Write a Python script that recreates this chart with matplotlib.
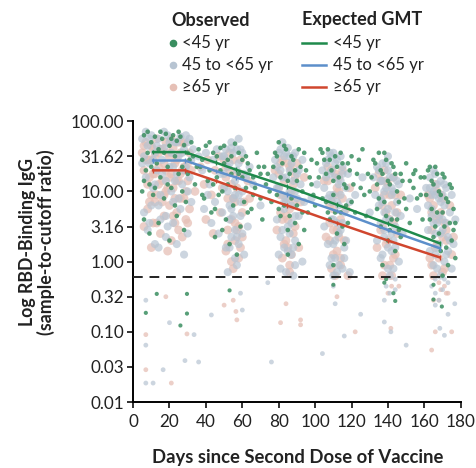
import numpy as np
import matplotlib
matplotlib.use('Agg')
import matplotlib.pyplot as plt
from matplotlib.lines import Line2D

plt.rcParams['font.family'] = ['Lato', 'DejaVu Sans']

obs_lt45 = [
    (6,1.80),(8,1.85),(10,1.70),(12,1.78),(14,1.60),(16,1.75),(18,1.82),(20,1.65),(22,1.80),(24,1.72),
    (26,1.78),(28,1.66),(30,1.55),(7,1.30),(9,1.10),(11,0.95),(13,1.40),(15,1.20),(17,0.90),(19,1.35),
    (21,1.05),(23,0.80),(25,1.25),(27,1.00),(29,0.85),(31,1.45),(6,0.60),(9,0.40),(14,0.55),(20,0.30),
    (24,0.65),(28,0.45),(7,-0.73),(13,-0.46),(26,-0.91),(29.6,-0.46),(29.6,-0.74),(5,1.0),(33,1.5),(35,1.35),
    (5,1.45),(6,1.15),(8,1.55),(10,1.35),(12,1.05),(15,1.85),(17,1.55),(19,1.10),(21,1.75),(23,1.50),
    (25,1.85),(27,1.35),(30,1.25),(32,1.70),(34,1.1),(37,1.35),(38,0.95),
    (36,1.60),(38,1.45),(40,1.65),(42,1.30),(44,1.55),(46,1.20),(48,1.62),(50,1.40),(52,1.10),(54,1.50),
    (56,1.68),(58,1.25),(60,1.45),(62,1.05),(39,0.90),(43,0.70),(47,0.95),(51,0.60),(55,0.80),(59,0.50),
    (61,0.85),(45,0.35),(53,0.25),(57,0.10),(49,1.0),(41,1.15),(53,-0.41),(64,1.3),(66,1.2),(68,1.55),(70,0.9),
    (42,1.70),(44,1.10),(46,1.50),(48,1.30),(50,1.65),(52,1.45),(54,1.25),(56,1.05),(58,1.55),(60,1.20),
    (62,1.50),(45,0.75),(49,0.45),(63,0.70),(66,0.95),(70,1.25),(73,1.1),
    (63,1.4),(65,0.75),(67,1.05),(69,1.35),(71,0.6),(74,1.25),(76,0.85),
    (72,1.35),(75,1.0),(78,1.55),(80,1.70),(82,1.40),(84,1.60),(86,1.25),(88,1.45),(90,1.15),(92,1.35),
    (94,1.55),(79,0.95),(81,0.65),(83,0.80),(85,0.45),(87,0.90),(89,0.55),(91,0.25),(93,0.70),(85,0.1),
    (97,1.2),(99,0.95),(101,1.4),(103,1.6),
    (77,1.35),(79,1.50),(81,1.20),(83,1.65),(85,1.15),(87,1.50),(89,1.30),(91,1.60),(93,1.00),(95,1.30),
    (80,0.75),(86,0.65),(90,0.80),(94,0.45),(98,1.45),
    (96,0.7),(98,1.1),(100,0.8),(102,1.2),(104,0.9),
    (105,1.45),(107,1.60),(109,1.30),(111,1.50),(113,1.20),(115,1.40),(117,1.05),(119,1.30),(106,0.85),
    (108,0.60),(110,0.95),(112,0.40),(114,0.70),(116,0.25),(118,0.55),(110,-0.05),(121,1.1),(124,1.45),
    (127,0.95),(129,1.25),(110,-0.33),
    (104,1.55),(106,1.25),(108,1.45),(110,1.15),(112,1.35),(114,1.55),(116,1.10),(118,1.40),(120,0.85),
    (107,0.70),(111,0.70),(115,0.50),(117,0.80),(123,1.25),(126,1.6),
    (120,1.5),(122,0.7),(125,1.05),(128,0.65),(130,1.0),
    (131,1.2),(133,1.40),(135,1.55),(137,1.25),(139,1.45),(141,1.10),(143,1.35),(145,1.0),(147,1.25),
    (149,0.9),(134,0.75),(136,0.50),(138,0.85),(140,0.30),(142,0.60),(144,0.15),(146,0.45),(137,-0.05),
    (139,-0.25),(143,-0.45),(152,1.15),(155,1.3),(158,0.95),(138,-0.3),(144,-0.56),
    (132,1.45),(134,1.10),(136,1.30),(138,1.55),(140,1.15),(142,1.40),(144,1.25),(146,0.85),(148,1.15),
    (135,0.90),(139,0.65),(141,0.45),(145,0.60),(147,0.35),(150,1.4),(154,1.05),
    (150,0.75),(152,0.55),(154,1.25),(156,0.9),(158,1.2),(159,0.6),
    (162,1.30),(164,1.15),(166,1.35),(168,1.00),(170,1.25),(172,0.90),(174,1.10),(176,0.75),(163,0.60),
    (165,0.35),(167,0.70),(169,0.15),(171,0.50),(173,-0.05),(175,0.30),(177,0.05),(165,-0.33),(165,-0.54),
    (170,-0.2),(160,1.2),(169.6,-0.64),
    (161,0.95),(163,1.35),(165,1.10),(167,1.25),(169,0.95),(171,1.20),(173,0.85),(175,1.05),(177,0.55),
    (164,0.75),(166,0.50),(168,0.40),(170,0.70),(172,0.20),(174,0.55),(176,0.45),
]

obs_45_65 = [
    (5,1.75),(6,1.50),(7,1.20),(8,1.65),(9,1.40),(10,1.80),(11,1.05),(12,1.55),(13,1.30),(14,1.75),
    (15,0.95),(16,1.45),(17,1.62),(18,1.15),(19,1.80),(20,1.35),(21,1.55),(22,0.85),(23,1.70),(24,1.25),
    (25,1.50),(26,1.78),(27,1.10),(28,1.60),(29,1.35),(30,1.70),(31,1.20),(32,1.45),(6,0.70),(8,0.45),
    (10,0.80),(12,0.25),(15,0.60),(18,0.35),(22,0.55),(26,0.75),(30,0.40),(7,-0.55),(7,-1.19),(7,-1.73),
    (11,-1.73),(16.5,-1.54),(20,-0.87),(28.5,-1.41),(36,-1.43),(33.5,-1.04),
    (5,1.40),(7,1.85),(9,1.75),(11,1.45),(12,1.10),(13,1.65),(14,0.80),(16,1.25),(17,1.85),(18,0.65),
    (20,1.70),(21,1.00),(22,1.35),(23,1.15),(24,1.70),(25,0.90),(27,1.55),(28,1.30),(29,1.80),(30,1.00),
    (31,1.75),(32,0.85),(9,0.55),(14,0.20),(19,0.50),(24,0.25),(28,0.10),(33,1.6),
    (36,1.50),(38,1.30),(40,1.55),(42,1.10),(44,1.45),(46,1.60),(48,1.25),(50,1.50),(52,1.35),(54,1.62),
    (56,1.15),(58,1.40),(60,1.55),(62,1.20),(64,1.35),(39,0.75),(41,0.95),(43,0.55),(45,0.85),(47,0.40),
    (49,0.70),(51,0.20),(53,0.60),(55,0.90),(57,0.35),(59,0.65),(61,0.10),(63,0.50),(50,1.05),(56,0.05),
    (43,-0.76),(59,-0.45),(60,-0.69),(66,1.1),(70,0.8),
    (49,1.50),(50,1.25),(51,1.60),(52,1.00),(53,1.40),(54,0.75),(55,1.55),(56,0.45),(57,1.30),(58,0.95),
    (59,1.60),(60,0.40),(61,1.25),(53,0.20),(55,0.65),(57,-0.05),(59,0.85),(54,1.70),(58,1.75),
    (52,-0.15),(54,0.35),(56,0.95),(58,0.25),(60,1.0),(53,0.8),(57,1.6),
    (77,1.20),(78,1.45),(79,1.05),(80,1.55),(81,1.30),(82,0.95),(83,1.50),(84,1.20),(85,1.62),(86,1.00),
    (87,1.40),(88,1.15),(89,1.55),(90,0.90),(91,1.30),(92,1.10),(93,1.45),(94,0.85),(79,0.60),(81,0.35),
    (83,0.75),(85,0.15),(87,0.55),(89,0.30),(91,0.65),(93,0.00),(84,-0.15),(88,-0.2),(74,-0.3),(76,-1.43),
    (98,0.9),(101,1.1),(110,-0.35),(111,-0.6),(116,-1.06),(125,-0.75),(104,-1.31),
    (79,1.35),(80,1.05),(81,1.60),(82,1.20),(83,0.85),(84,1.55),(85,0.50),(86,1.30),(87,0.80),(88,1.50),
    (89,0.65),(90,1.25),(83,0.20),(85,0.95),(87,0.10),(89,-0.05),(86,0.40),(82,1.70),
    (80,0.1),(82,0.45),(84,0.85),(86,1.5),(88,0.2),(81,-0.1),(89,1.0),
    (104,1.30),(105,1.05),(106,1.40),(107,0.90),(108,1.25),(109,1.50),(110,0.95),(111,1.20),(112,1.45),
    (113,0.80),(114,1.15),(115,1.35),(116,0.70),(117,1.05),(118,1.25),(119,0.85),(105,0.50),(107,0.25),
    (109,0.60),(111,0.05),(113,0.40),(115,-0.10),(117,0.30),(119,-0.15),(110,-0.2),(108,-0.05),(122,0.95),
    (126,1.2),(130,0.7),
    (106,1.20),(107,1.45),(108,0.95),(109,1.30),(110,0.60),(111,1.40),(112,0.85),(113,1.10),(114,0.45),
    (115,1.25),(116,0.20),(109,0.05),(111,0.30),(113,-0.05),(115,0.55),(110,1.55),(114,1.5),
    (108,1.55),(110,0.25),(112,0.55),(114,0.95),(116,0.05),(112,-0.15),(109,0.85),
    (132,1.20),(133,0.95),(134,1.35),(135,0.80),(136,1.15),(137,1.40),(138,0.70),(139,1.05),(140,1.30),
    (141,0.60),(142,0.95),(143,1.20),(144,0.50),(145,0.85),(146,1.10),(147,0.65),(134,0.30),(136,0.05),
    (138,0.35),(140,-0.10),(142,0.15),(144,-0.25),(146,0.00),(139,-0.35),(141,-0.45),(138,-0.86),
    (141.6,-1.0),(150,-1.19),(148,0.4),(152,0.9),(156,0.75),
    (135,1.30),(136,0.90),(137,1.15),(138,0.45),(139,1.40),(140,0.75),(141,1.20),(142,0.40),(143,1.00),
    (144,0.20),(145,1.15),(137,0.10),(139,0.60),(141,-0.20),(143,0.30),(140,1.50),(144,-0.40),(138,-0.55),
    (136,0.55),(138,1.0),(140,0.2),(142,1.05),(144,0.7),(137,0.85),(143,-0.1),
    (161,1.05),(162,0.80),(163,1.20),(164,0.65),(165,1.00),(166,1.25),(167,0.55),(168,0.90),(169,1.15),
    (170,0.45),(171,0.80),(172,1.05),(173,0.35),(174,0.70),(175,0.95),(176,0.25),(177,0.60),(163,0.15),
    (165,-0.05),(167,0.20),(169,-0.20),(171,0.00),(173,-0.30),(175,-0.10),(166,-0.45),(168.5,-0.95),
    (171,-1.05),(173,-0.75),(176.7,-0.6),(166,-0.62),(164,-0.35),
    (163,1.05),(164,0.75),(165,1.30),(166,0.40),(167,1.10),(168,0.25),(169,0.85),(170,0.60),(171,1.10),
    (172,0.10),(165,0.55),(167,-0.10),(169,0.40),(171,-0.25),(173,0.15),(166,0.95),(168,-0.55),(170,-0.40),
    (162,0.45),(164,0.95),(166,0.10),(168,0.65),(170,0.95),(172,0.55),(174,0.3),(166,-0.25),
]

obs_ge65 = [
    (5,1.55),(6,1.30),(7,1.70),(8,1.10),(9,1.45),(10,1.65),(11,1.25),(12,1.50),(13,0.95),(14,1.35),
    (15,1.60),(16,1.15),(17,1.40),(18,1.70),(19,1.05),(20,1.50),(21,1.25),(22,1.62),(23,0.90),(24,1.45),
    (25,1.15),(26,1.55),(27,1.30),(28,1.68),(29,1.00),(30,1.40),(31,1.55),(6,0.50),(8,0.75),(10,0.20),
    (13,0.55),(17,0.65),(21,0.30),(25,0.45),(29,0.60),(7,-1.54),(7,-1.04),(21,-1.73),(29.6,-1.03),(18,-0.5),
    (6,1.65),(8,1.45),(9,1.20),(11,1.60),(12,0.85),(13,1.75),(14,1.10),(16,1.60),(17,0.95),(18,1.30),
    (19,1.55),(20,0.80),(21,1.75),(22,1.05),(23,1.40),(24,0.70),(26,1.25),(27,1.70),(28,0.90),(30,1.15),
    (31,0.75),(10,0.95),(15,0.40),(19,0.15),(23,0.55),(27,0.35),(12,1.25),(25,1.70),
    (7,1.45),(9,0.85),(11,0.55),(14,1.55),(16,0.85),(18,1.0),(20,1.2),(22,0.65),(24,1.15),(26,0.9),
    (28,1.35),(30,0.55),(32,1.3),(34,1.0),
    (37,1.35),(39,1.10),(41,1.45),(43,0.95),(45,1.30),(47,1.50),(49,1.05),(51,1.35),(53,1.55),(55,0.90),
    (57,1.25),(59,1.45),(61,0.85),(63,1.15),(40,0.60),(44,0.40),(48,0.70),(52,0.25),(56,0.55),(60,0.35),
    (54,0.0),(50,-0.62),(55,-0.55),(56.5,-0.71),(57,-0.83),(64,0.9),
    (50,1.45),(51,1.20),(52,0.90),(53,1.30),(54,0.60),(55,1.45),(56,0.30),(57,1.05),(58,0.05),(59,1.25),
    (60,0.70),(52,0.45),(54,1.10),(56,0.85),(58,0.50),(51,0.15),(55,-0.10),(57,0.45),(59,0.20),
    (78,1.30),(80,1.05),(82,1.45),(84,0.90),(86,1.35),(88,1.10),(90,1.40),(92,0.85),(94,1.20),(79,0.45),
    (81,0.70),(83,0.25),(85,0.60),(87,0.10),(89,0.50),(91,0.20),(86,-0.15),(81,-0.87),(92,-0.83),(92,-0.9),
    (84,-0.6),
    (80,1.25),(81,0.95),(82,0.60),(83,1.15),(84,0.30),(85,1.40),(86,0.75),(87,1.00),(88,0.40),(89,1.20),
    (82,0.05),(84,0.65),(86,-0.05),(88,0.85),(85,0.20),(81,1.40),(87,1.30),
    (105,1.15),(107,1.35),(109,0.85),(111,1.25),(113,1.00),(115,1.30),(117,0.75),(119,1.05),(106,0.35),
    (108,0.55),(110,0.10),(112,0.45),(114,-0.05),(116,0.30),(118,-0.20),(122,-1.0),(112,-0.5),
    (107,1.15),(108,0.80),(109,1.30),(110,0.45),(111,0.95),(112,0.15),(113,1.20),(114,0.60),(115,0.90),
    (108,0.30),(110,0.75),(112,1.05),(114,0.05),(109,-0.10),(113,0.35),(111,-0.20),
    (133,1.05),(135,1.25),(137,0.80),(139,1.15),(141,0.95),(143,1.20),(145,0.70),(147,0.95),(134,0.20),
    (136,0.45),(138,-0.05),(140,0.30),(142,-0.20),(144,0.10),(146,-0.35),(141.6,-0.95),
    (136,1.15),(137,0.50),(138,0.95),(139,0.25),(140,1.10),(141,0.60),(142,0.80),(143,0.05),(144,0.95),
    (145,0.40),(137,-0.20),(139,0.70),(141,-0.05),(143,0.55),(138,1.30),(142,-0.35),(140,-0.45),
    (162,0.95),(164,0.70),(166,1.10),(168,0.60),(170,0.90),(172,0.45),(174,0.80),(176,0.35),(163,0.05),
    (165,-0.20),(167,0.25),(169,-0.40),(171,-0.10),(173,-0.45),(175,0.10),(164,-1.26),(166,-1.0),
    (175,-1.0),(168,-0.55),
    (163,0.90),(164,0.45),(165,0.80),(166,0.20),(167,1.00),(168,0.05),(169,0.70),(170,-0.15),(171,0.55),
    (172,0.30),(164,-0.05),(166,0.60),(168,-0.30),(170,0.35),(172,-0.45),(165,-0.55),(169,0.95),(171,-0.35),
]

# expected GMT (log10) at the marked days
gmt_days = [11, 28.5, 45.5, 56.5, 84.5, 112, 140, 168.5]
gmt_lt45 = [1.56, 1.56, 1.41, 1.31, 1.07, 0.81, 0.54, 0.26]
gmt_45_65 = [1.44, 1.44, 1.29, 1.20, 0.96, 0.72, 0.45, 0.19]
gmt_ge65 = [1.30, 1.30, 1.15, 1.05, 0.80, 0.55, 0.30, 0.06]

cutoff = 0.6
yticks = [0.01, 0.0316, 0.1, 0.316, 1, 3.16, 10, 31.62, 100]
ytick_labels = ['0.01', '0.03', '0.10', '0.32', '1.00', '3.16', '10.00', '31.62', '100.00']

c_green_dot = '#3a8e60'
c_blue_dot = '#b7c4d2'
c_pink_dot = '#e6c0b6'
c_green = '#1f8a4c'
c_blue = '#5c8fca'
c_red = '#d0462e'

fig = plt.figure(figsize=(4.77, 4.68), dpi=100)
ax = fig.add_axes([0.279, 0.141, 0.687, 0.600])

def draw_obs(pts, color, big, small, alpha, z):
    d = np.array([p[0] for p in pts])
    lv = np.array([p[1] for p in pts])
    # points in the dense band are drawn larger than the sparse low ones
    sizes = np.where(lv > -0.25, big, small)
    ax.scatter(d, 10 ** lv, s=sizes, color=color, alpha=alpha, linewidths=0, zorder=z)

draw_obs(obs_ge65, c_pink_dot, 40, 12, 0.75, 2)
draw_obs(obs_45_65, c_blue_dot, 34, 12, 0.7, 3)
draw_obs(obs_lt45, c_green_dot, 11, 9, 0.85, 4)

ax.axhline(cutoff, color='#222222', lw=1.4, dashes=(5, 3.5), zorder=5)

for vals, col in [(gmt_ge65, c_red), (gmt_45_65, c_blue), (gmt_lt45, c_green)]:
    v = 10 ** np.array(vals)
    ax.errorbar(gmt_days, v, yerr=[v - v / 1.08, v * 1.08 - v], color=col, lw=1.8,
                elinewidth=1.0, capsize=0, zorder=6)

ax.set_yscale('log')
ax.set_xlim(0, 180)
ax.set_ylim(0.01, 100)
ax.set_yticks(yticks)
ax.set_yticklabels(ytick_labels)
ax.yaxis.set_minor_locator(matplotlib.ticker.NullLocator())
ax.set_xticks(range(0, 181, 20))
for s in ['top', 'right']:
    ax.spines[s].set_visible(False)
for s in ['left', 'bottom']:
    ax.spines[s].set_linewidth(1.4)
ax.tick_params(axis='both', length=4.5, width=1.3, labelsize=12.3, colors='#222222')
ax.tick_params(axis='x', pad=4)
ax.tick_params(axis='y', pad=2)

fig.text(37 / 477, 1 - 242 / 468, 'Log RBD-Binding IgG\n(sample-to-cutoff ratio)', rotation=90,
         ha='center', va='center', fontsize=12.8, fontweight='bold', color='#222222', linespacing=1.0)
fig.text(298 / 477, 1 - 457 / 468, 'Days since Second Dose of Vaccine', ha='center', va='center',
         fontsize=13.3, fontweight='bold', color='#222222')

# legend
labels = ['<45 yr', '45 to <65 yr', '\u226565 yr']
dot_cols = [c_green_dot, c_blue_dot, c_pink_dot]
line_cols = [c_green, c_blue, c_red]
rows = [43, 65, 87]
fig.text(171 / 477, 1 - 20 / 468, 'Observed', ha='left', va='center', fontsize=13,
         fontweight='bold', color='#222222')
fig.text(302 / 477, 1 - 20 / 468, 'Expected GMT', ha='left', va='center', fontsize=13,
         fontweight='bold', color='#222222')
for lab, dc, lc, ry in zip(labels, dot_cols, line_cols, rows):
    y = 1 - ry / 468
    fig.add_artist(Line2D([173 / 477], [y], marker='o', ms=4.5, color=dc, lw=0))
    fig.text(182 / 477, y, lab, ha='left', va='center', fontsize=12, color='#222222')
    fig.add_artist(Line2D([302 / 477, 326 / 477], [y, y], color=lc, lw=1.8))
    fig.text(333 / 477, y, lab, ha='left', va='center', fontsize=12, color='#222222')

fig.savefig('out.png', dpi=100)
